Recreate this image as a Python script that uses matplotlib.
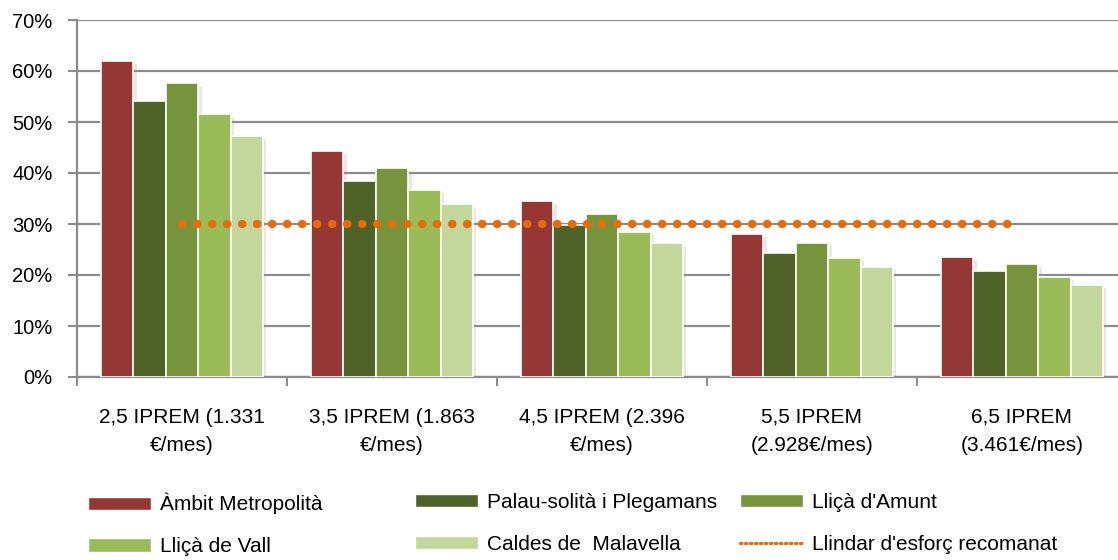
import numpy as np
import matplotlib.pyplot as plt
import matplotlib.patheffects as pe
from matplotlib.lines import Line2D
from matplotlib.patches import Patch

plt.rcParams['font.family'] = ['Liberation Sans', 'DejaVu Sans']

# Data
categories = ["2,5 IPREM (1.331\n€/mes)", "3,5 IPREM (1.863\n€/mes)", "4,5 IPREM (2.396\n€/mes)",
              "5,5 IPREM\n(2.928€/mes)", "6,5 IPREM\n(3.461€/mes)"]
series_names = ["Àmbit Metropolità", "Palau-solità i Plegamans", "Lliçà d'Amunt",
                "Lliçà de Vall", "Caldes de  Malavella"]
ambit = [62.0, 44.3, 34.5, 28.0, 23.5]
palau = [54.1, 38.4, 29.8, 24.3, 20.8]
amunt = [57.6, 41.0, 32.0, 26.3, 22.2]
vall = [51.6, 36.7, 28.4, 23.3, 19.6]
caldes = [47.3, 33.9, 26.3, 21.6, 18.0]
threshold = [30, 30, 30, 30, 30]
threshold_name = "Llindar d'esforç recomanat"

colors = ['#953735', '#4F6228', '#77933C', '#9BBB59', '#C3D69B']
orange = '#E46C0A'
grid_gray = '#8C8C8C'

fig = plt.figure(figsize=(11.18, 5.6), dpi=100)
ax = fig.add_axes([77 / 1118, 183 / 560, 1041 / 1118, 357 / 560])

x = np.arange(len(categories))
width = 0.154
shadow = [pe.SimplePatchShadow(offset=(2.5, -2), shadow_rgbFace='#9a9a9a', alpha=0.22), pe.Normal()]
all_series = [ambit, palau, amunt, vall, caldes]
for i, vals in enumerate(all_series):
    bars = ax.bar(x + (i - 2) * width, vals, width, color=colors[i], edgecolor='white',
                  linewidth=1.2, zorder=3)
    for b in bars:
        b.set_path_effects(shadow)

ax.plot(x, threshold, color=orange, lw=6, linestyle=(0, (0.05, 1.75)),
        dash_capstyle='round', zorder=4)

ax.set_xlim(-0.5, -0.5 + 1041 / 210)
ax.set_ylim(0, 70)
ax.set_yticks(np.arange(0, 71, 10))
ax.set_yticklabels([f"{v}%" for v in range(0, 71, 10)], fontsize=14.5)
ax.yaxis.grid(True, color=grid_gray, lw=1.6, zorder=0)
ax.set_axisbelow(True)

ax.set_xticks(x)
ax.set_xticklabels(categories, fontsize=15, linespacing=1.65)
ax.set_xticks(np.arange(-0.5, 4.0, 1.0), minor=True)
ax.tick_params(axis='x', which='major', length=0, pad=22)
ax.tick_params(axis='x', which='minor', length=6.5, width=1.5, color=grid_gray)
ax.tick_params(axis='y', length=6.5, width=1.5, color=grid_gray, pad=11)

for side in ['top', 'right']:
    ax.spines[side].set_visible(False)
for side in ['left', 'bottom']:
    ax.spines[side].set_color(grid_gray)
    ax.spines[side].set_linewidth(1.6)

# Legend: three fixed-width columns like the original
handles = [Patch(facecolor=c, edgecolor='white') for c in colors]
handles.append(Line2D([], [], color=orange, lw=2.4, linestyle=(0, (0.4, 1.1)), dash_capstyle='round'))
labels = series_names + [threshold_name]
col_x = [88, 415, 740]
for col in range(3):
    h = [handles[col], handles[col + 3]]
    l = [labels[col], labels[col + 3]]
    fig.legend(h, l, loc='upper left', bbox_to_anchor=(col_x[col] / 1118, 67 / 560),
               frameon=False, fontsize=15, handlelength=3.0, handleheight=0.6,
               handletextpad=0.45, labelspacing=1.1, borderpad=0, borderaxespad=0)

fig.savefig('out.png', dpi=100)
